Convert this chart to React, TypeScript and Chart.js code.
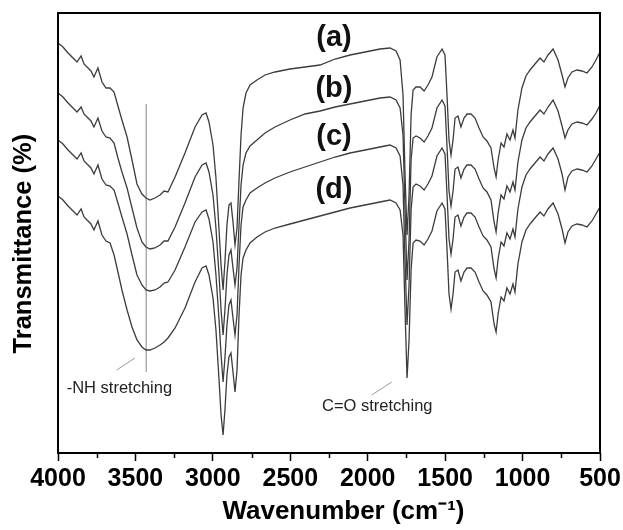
import React, { useEffect, useRef } from "react";
import { Chart, registerables } from "chart.js";

Chart.register(...registerables);

// Wavenumber (cm-1) sample positions
const wavenumbers = [
  4000, 3968, 3935, 3903, 3877, 3851, 3832, 3806, 3787, 3768,
  3742, 3716, 3690, 3664, 3638, 3613, 3587, 3554, 3522, 3490,
  3458, 3432, 3406, 3374, 3341, 3315, 3290, 3244, 3180, 3115,
  3070, 3044, 3025, 2999, 2980, 2960, 2947, 2934, 2922, 2909,
  2896, 2883, 2870, 2857, 2844, 2831, 2818, 2805, 2786, 2760,
  2715, 2663, 2599, 2502, 2405, 2308, 2211, 2114, 2017, 1921,
  1856, 1817, 1791, 1772, 1759, 1746, 1733, 1720, 1707, 1688,
  1662, 1636, 1611, 1585, 1553, 1520, 1501, 1488, 1475, 1462,
  1449, 1436, 1417, 1398, 1378, 1359, 1333, 1307, 1281, 1255,
  1230, 1204, 1184, 1171, 1158, 1139, 1120, 1101, 1081, 1062,
  1049, 1030, 1004, 978, 952, 920, 887, 862, 836, 803,
  771, 745, 726, 707, 681, 649, 616, 584, 552, 526, 500,
];

// Transmittance (arbitrary, offset) for spectra (a)-(d)
const seriesA = [
  410, 406, 400, 395, 391, 397, 389, 385, 382, 376,
  385, 371, 365, 365, 361, 347, 333, 316, 293, 269,
  259, 255, 253, 255, 258, 262, 261, 276, 300, 326,
  338, 340, 331, 308, 275, 223, 188, 163, 191, 228,
  248, 250, 231, 208, 225, 273, 318, 345, 360, 368,
  373, 378, 381, 384, 386, 388, 394, 398, 401, 404,
  405, 402, 393, 358, 278, 218, 258, 338, 363, 366,
  366, 362, 368, 376, 396, 404, 398, 358, 313, 298,
  313, 335, 337, 326, 335, 339, 339, 335, 325, 316,
  312, 305, 285, 276, 293, 310, 306, 319, 313, 323,
  315, 343, 365, 377, 383, 389, 395, 391, 398, 404,
  393, 378, 366, 375, 381, 383, 382, 380, 386, 393, 401,
];

const seriesB = [
  360, 356, 350, 345, 341, 346, 339, 335, 332, 326,
  335, 322, 316, 315, 310, 295, 281, 265, 245, 225,
  211, 206, 204, 205, 208, 212, 212, 226, 250, 276,
  288, 290, 281, 258, 225, 178, 143, 118, 143, 178,
  198, 203, 185, 168, 185, 228, 268, 288, 300, 307,
  313, 320, 326, 333, 339, 342, 346, 349, 352, 355,
  356, 353, 345, 318, 243, 173, 213, 293, 315, 317,
  315, 311, 317, 325, 345, 353, 347, 307, 262, 247,
  262, 284, 286, 275, 284, 288, 288, 284, 274, 265,
  261, 253, 231, 221, 240, 258, 254, 267, 261, 271,
  263, 291, 313, 325, 331, 337, 343, 339, 346, 353,
  342, 327, 315, 323, 329, 331, 330, 328, 334, 340, 348,
];

const seriesC = [
  313, 309, 303, 298, 294, 300, 292, 288, 285, 279,
  288, 274, 268, 267, 263, 250, 236, 219, 198, 178,
  168, 163, 162, 163, 166, 170, 171, 183, 206, 231,
  241, 243, 234, 211, 178, 133, 98, 71, 95, 128,
  148, 153, 135, 118, 138, 188, 228, 246, 253, 260,
  265, 270, 275, 281, 286, 291, 296, 300, 303, 306,
  308, 305, 297, 268, 193, 128, 168, 243, 266, 269,
  267, 263, 269, 277, 297, 305, 299, 259, 214, 199,
  214, 236, 238, 227, 236, 240, 240, 236, 226, 217,
  213, 206, 184, 175, 194, 211, 207, 220, 214, 224,
  216, 244, 266, 278, 284, 290, 296, 292, 299, 305,
  294, 279, 263, 276, 282, 284, 283, 281, 287, 294, 301,
];

const seriesD = [
  257, 253, 247, 242, 238, 244, 236, 232, 229, 223,
  232, 218, 212, 210, 198, 181, 163, 143, 126, 113,
  106, 103, 103, 105, 108, 111, 115, 125, 145, 171,
  185, 187, 178, 155, 123, 73, 38, 18, 43, 78,
  96, 100, 81, 61, 83, 138, 178, 195, 203, 210,
  216, 221, 225, 229, 233, 237, 241, 245, 248, 251,
  253, 250, 243, 218, 143, 75, 113, 183, 210, 213,
  212, 208, 214, 222, 242, 250, 244, 204, 159, 144,
  159, 181, 183, 172, 181, 185, 185, 181, 171, 162,
  158, 151, 129, 121, 139, 156, 152, 165, 159, 169,
  161, 189, 211, 223, 229, 235, 241, 237, 244, 250,
  239, 224, 210, 221, 227, 229, 228, 226, 232, 239, 246,
];

const seriesLabels = ["(a)", "(b)", "(c)", "(d)"];
const xTickValues = [4000, 3500, 3000, 2500, 2000, 1500, 1000, 500];
const xMinorTickValues = [3750, 3250, 2750, 2250, 1750, 1250, 750];

const SANS = "'Liberation Sans', Arial, sans-serif";
const LINE_COLOR = "#3c3c3c";

const decorPlugin = {
  id: "ftirDecor",
  beforeDatasetsDraw(chart: any) {
    const { ctx, scales } = chart;
    const x = scales.x;
    const y = scales.y;
    ctx.save();
    // -NH reference line
    ctx.strokeStyle = "#adadad";
    ctx.lineWidth = 1.5;
    ctx.beginPath();
    ctx.moveTo(x.getPixelForValue(3430), y.getPixelForValue(349));
    ctx.lineTo(x.getPixelForValue(3430), y.getPixelForValue(81));
    ctx.stroke();
    ctx.restore();
  },
  afterDatasetsDraw(chart: any) {
    const { ctx, scales } = chart;
    const x = scales.x;
    const y = scales.y;
    ctx.save();
    // pointer lines
    ctx.strokeStyle = "#9a9a9a";
    ctx.lineWidth = 1;
    ctx.beginPath();
    ctx.moveTo(x.getPixelForValue(3621), y.getPixelForValue(83));
    ctx.lineTo(x.getPixelForValue(3503), y.getPixelForValue(95));
    ctx.moveTo(x.getPixelForValue(1974), y.getPixelForValue(58));
    ctx.lineTo(x.getPixelForValue(1845), y.getPixelForValue(71));
    ctx.stroke();
    // annotation texts
    ctx.fillStyle = "#222";
    ctx.font = `16.5px ${SANS}`;
    ctx.textAlign = "left";
    ctx.textBaseline = "middle";
    ctx.fillText("-NH stretching", x.getPixelForValue(3944), y.getPixelForValue(65));
    ctx.fillText("C=O stretching", x.getPixelForValue(2295), y.getPixelForValue(47));
    // series labels
    ctx.fillStyle = "#111";
    ctx.font = `bold 29px ${SANS}`;
    ctx.textAlign = "center";
    const labelY = [415, 364, 316, 263];
    seriesLabels.forEach((t, i) => {
      ctx.fillText(t, x.getPixelForValue(2218), y.getPixelForValue(labelY[i]));
    });
    ctx.restore();
  },
  afterDraw(chart: any) {
    const { ctx, chartArea, scales } = chart;
    const x = scales.x;
    ctx.save();
    ctx.strokeStyle = "#000";
    ctx.lineWidth = 2;
    ctx.strokeRect(chartArea.left, chartArea.top, chartArea.right - chartArea.left, chartArea.bottom - chartArea.top);
    ctx.lineWidth = 1.5;
    ctx.beginPath();
    xMinorTickValues.forEach((v) => {
      const px = Math.round(x.getPixelForValue(v)) + 0.5;
      ctx.moveTo(px, chartArea.bottom);
      ctx.lineTo(px, chartArea.bottom + 5);
    });
    ctx.stroke();
    ctx.restore();
  },
};

export default function App() {
  const canvasRef = useRef<HTMLCanvasElement | null>(null);

  useEffect(() => {
    const canvas = canvasRef.current;
    if (!canvas) return;
    const mk = (vals: number[]) => wavenumbers.map((w, i) => ({ x: w, y: vals[i] }));
    const allSeries = [seriesA, seriesB, seriesC, seriesD];
    const chart = new Chart(canvas, {
      type: "line",
      data: {
        datasets: allSeries.map((s, i) => ({
          label: seriesLabels[i],
          data: mk(s),
          borderColor: LINE_COLOR,
          borderWidth: 1.3,
          pointRadius: 0,
          tension: 0,
          fill: false,
        })),
      },
      options: {
        animation: false,
        responsive: false,
        devicePixelRatio: 1,
        layout: { padding: { left: 0, right: 23, top: 13, bottom: 0 } },
        plugins: { legend: { display: false }, tooltip: { enabled: false } },
        scales: {
          x: {
            type: "linear",
            reverse: true,
            min: 500,
            max: 4000,
            afterBuildTicks: (s: any) => {
              s.ticks = xTickValues.map((v) => ({ value: v }));
            },
            ticks: {
              font: { family: SANS, size: 25, weight: "bold" },
              color: "#000",
              padding: 3,
              maxRotation: 0,
              autoSkip: false,
              callback: (v: any) => String(v),
            },
            grid: {
              display: true,
              drawOnChartArea: false,
              drawTicks: true,
              tickLength: 8,
              tickWidth: 1.5,
              tickColor: "#000",
            },
            border: { display: false },
            title: {
              display: true,
              text: "    Wavenumber (cm\u207B\u00B9)",
              color: "#000",
              font: { family: SANS, size: 26, weight: "bold" },
              padding: { top: 0, bottom: 3 },
            },
            afterFit: (s: any) => {
              s.height = 77;
              s.paddingLeft = 0;
              s.paddingRight = 0;
            },
          },
          y: {
            type: "linear",
            min: 0,
            max: 440,
            ticks: { display: false },
            grid: { display: false },
            border: { display: false },
            title: {
              display: true,
              text: "Transmittance (%)   ",
              color: "#000",
              font: { family: SANS, size: 25.5, weight: "bold" },
              padding: { top: 9, bottom: 0 },
            },
            afterFit: (s: any) => {
              s.width = 58;
              s.paddingTop = 0;
              s.paddingBottom = 0;
            },
          },
        },
      },
      plugins: [decorPlugin],
    } as any);
    return () => chart.destroy();
  }, []);

  return (
    <div style={{ position: "absolute", left: 0, top: 0, width: 623, height: 530, background: "#fff" }}>
      <canvas ref={canvasRef} width={623} height={530} style={{ display: "block", width: 623, height: 530 }} />
    </div>
  );
}
